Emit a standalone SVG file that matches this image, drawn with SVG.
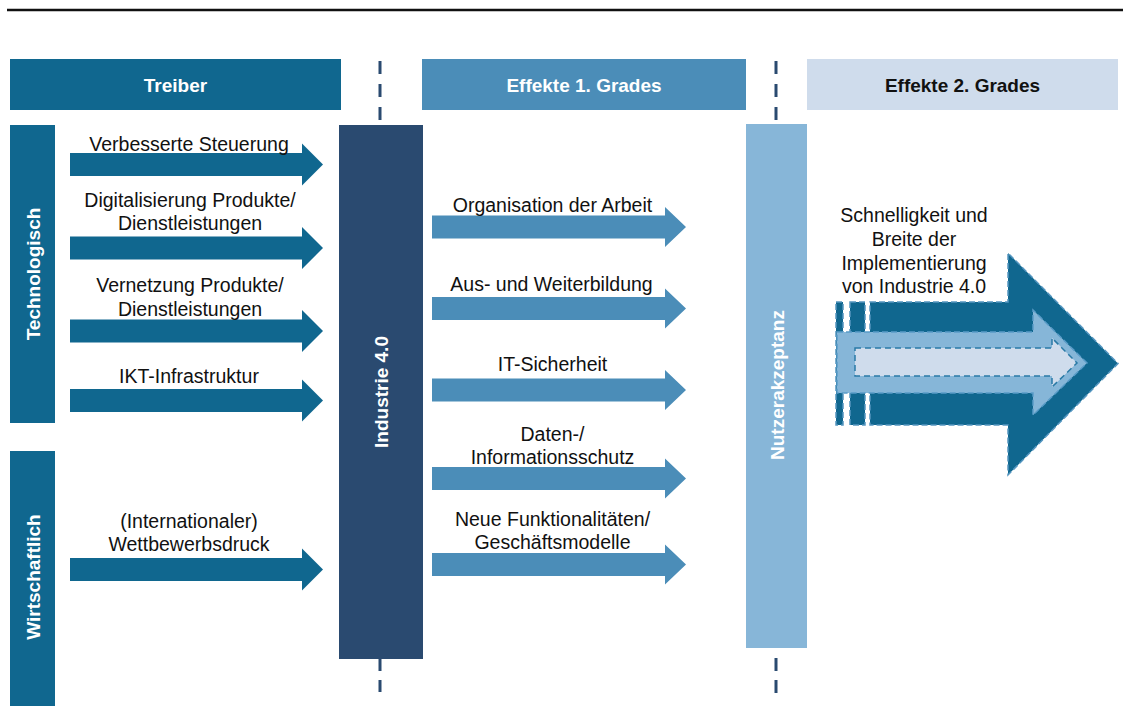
<svg xmlns="http://www.w3.org/2000/svg" xmlns:xlink="http://www.w3.org/1999/xlink" width="1123" height="706" viewBox="0 0 1123 706">
<style>
.lbl{font-family:"Liberation Sans",Arial,sans-serif;font-size:19.5px;fill:#111;text-anchor:middle}
.hdr{font-family:"Liberation Sans",Arial,sans-serif;font-size:19px;font-weight:bold;fill:#fff;text-anchor:middle}
.dash{stroke:#2a4a70;stroke-width:3;stroke-dasharray:13 10;fill:none}
.aL{fill:#10678f}
.aM{fill:#4b8db8}
</style>
<defs>
<path id="arrL" d="M70,-11.5 H302 V-21 L323,0 L302,21 V11.5 H70 Z"/>
<path id="arrM" d="M432,-11.5 H665 V-20 L686,0 L665,20 V11.5 H432 Z"/>
</defs>
<rect width="1123" height="706" fill="#fff"/>
<line x1="7" y1="10" x2="1123" y2="10" stroke="#111" stroke-width="2.4"/>

<g id="hdr-treiber">
<rect x="10" y="59" width="331" height="51" fill="#10678f"/>
<text class="hdr" x="175.5" y="91.5">Treiber</text>
</g>
<g id="hdr-effekte1">
<rect x="422" y="59" width="324" height="51" fill="#4b8db8"/>
<text class="hdr" x="584" y="91.5">Effekte 1. Grades</text>
</g>
<g id="hdr-effekte2">
<rect x="807" y="59" width="311" height="51" fill="#cfdcec"/>
<text class="hdr" x="962.5" y="91.5" style="fill:#111">Effekte 2. Grades</text>
</g>

<g id="separators">
<line class="dash" x1="380" y1="61" x2="380" y2="120"/>
<line class="dash" x1="776" y1="61" x2="776" y2="120"/>
<line class="dash" x1="380" y1="659" x2="380" y2="694" style="stroke-dasharray:12 9"/>
<line class="dash" x1="776" y1="658" x2="776" y2="694" style="stroke-dasharray:13 9"/>
</g>

<g id="cat-technologisch">
<rect x="10" y="125" width="45" height="298" fill="#10678f"/>
<text class="hdr" transform="translate(33,274) rotate(-90)" y="7">Technologisch</text>
</g>
<g id="cat-wirtschaftlich">
<rect x="10" y="451" width="45" height="255" fill="#10678f"/>
<text class="hdr" transform="translate(33,577) rotate(-90)" y="7">Wirtschaftlich</text>
</g>

<g id="node-industrie">
<rect x="339" y="125" width="84" height="534" fill="#2a4a70"/>
<text class="hdr" transform="translate(381,392) rotate(-90)" y="7">Industrie 4.0</text>
</g>
<g id="node-nutzerakzeptanz">
<rect x="746" y="124" width="61" height="524" fill="#87b6d8"/>
<text class="hdr" transform="translate(776.5,385) rotate(-90)" y="7">Nutzerakzeptanz</text>
</g>

<g id="connectors">
<use xlink:href="#arrL" class="aL" y="164.5"/>
<use xlink:href="#arrL" class="aL" y="248"/>
<use xlink:href="#arrL" class="aL" y="331"/>
<use xlink:href="#arrL" class="aL" y="400.5"/>
<use xlink:href="#arrL" class="aL" y="569.5"/>
<use xlink:href="#arrM" class="aM" y="227"/>
<use xlink:href="#arrM" class="aM" y="308.5"/>
<use xlink:href="#arrM" class="aM" y="390"/>
<use xlink:href="#arrM" class="aM" y="478.5"/>
<use xlink:href="#arrM" class="aM" y="564.5"/>
</g>

<g id="labels-treiber">
<text class="lbl" x="189" y="151">Verbesserte Steuerung</text>
<text class="lbl" x="190" y="206.5">Digitalisierung Produkte/</text>
<text class="lbl" x="190" y="230">Dienstleistungen</text>
<text class="lbl" x="190" y="292">Vernetzung Produkte/</text>
<text class="lbl" x="190" y="315.5">Dienstleistungen</text>
<text class="lbl" x="189" y="383">IKT-Infrastruktur</text>
<text class="lbl" x="189" y="528">(Internationaler)</text>
<text class="lbl" x="189" y="550.5">Wettbewerbsdruck</text>
</g>

<g id="labels-effekte1">
<text class="lbl" x="552.5" y="212">Organisation der Arbeit</text>
<text class="lbl" x="551.5" y="291">Aus- und Weiterbildung</text>
<text class="lbl" x="552.5" y="371">IT-Sicherheit</text>
<text class="lbl" x="552.5" y="441">Daten-/</text>
<text class="lbl" x="552.5" y="464">Informationsschutz</text>
<text class="lbl" x="552.5" y="526">Neue Funktionalitäten/</text>
<text class="lbl" x="552.5" y="548.5">Geschäftsmodelle</text>
</g>

<g id="node-implementierung">
<g fill="#10678f" stroke="#5596c0" stroke-width="1.5" stroke-dasharray="6 3">
<rect x="836" y="302" width="7" height="123"/>
<rect x="850" y="302" width="15" height="123"/>
<path d="M870,302 H1008 V253 L1118,363.5 L1008,475 V425 H870 Z"/>
</g>
<path d="M837,332 H1033 V310 L1087,363 L1033,415 V393 H837 Z" fill="#86b6d8" stroke="#5a9cc8" stroke-width="1.5" stroke-dasharray="6 3"/>
<path d="M855,348 H1052 V338 L1077,363 L1052,387 V376 H855 Z" fill="#cfdcec" stroke="#2a7aa6" stroke-width="1.5" stroke-dasharray="6 4"/>
<text class="lbl" x="914" y="222">Schnelligkeit und</text>
<text class="lbl" x="914" y="246">Breite der</text>
<text class="lbl" x="914" y="270">Implementierung</text>
<text class="lbl" x="914" y="293">von Industrie 4.0</text>
</g>
</svg>
